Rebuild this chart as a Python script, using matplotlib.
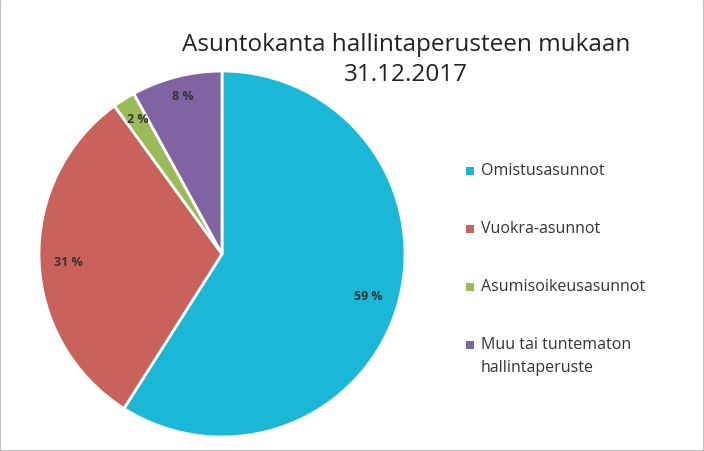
import matplotlib
matplotlib.use("Agg")
import matplotlib.pyplot as plt
from matplotlib.patches import Rectangle

categories = ["Omistusasunnot", "Vuokra-asunnot", "Asumisoikeusasunnot", "Muu tai tuntematon\nhallintaperuste"]
values = [59, 31, 2, 8]
colors = ["#1ab7d6", "#c9625a", "#9bbb59", "#8064a2"]
label_pos = [(368, 296), (68, 262), (138, 120), (183, 97)]

W, H = 704, 452
fig = plt.figure(figsize=(W/100, H/100), dpi=100)
fig.patches.append(Rectangle((0, 0), 1, 1, transform=fig.transFigure, fill=False, edgecolor="#bfbfbf", lw=1.5))
plt.rcParams["font.family"] = "Open Sans"

cx, cy, r = 222, 255, 183
ax = fig.add_axes([(cx-r)/W, (H-cy-r)/H, 2*r/W, 2*r/H])
ax.pie(values, colors=colors, startangle=90, counterclock=False, radius=1,
       wedgeprops=dict(edgecolor="white", linewidth=2))
ax.set_xlim(-1, 1)
ax.set_ylim(-1, 1)
ax.set_aspect("auto")
for v, (x, y) in zip(values, label_pos):
    fig.text(x/W, 1-y/H, f"{v} %", ha="center", va="center", fontsize=9, fontweight="bold", color="#333333")

fig.text(406/W, 1-45/H, "Asuntokanta hallintaperusteen mukaan", ha="center", va="center", fontsize=17.5, color="#222222")
fig.text(406/W, 1-75/H, "31.12.2017", ha="center", va="center", fontsize=17.5, color="#222222")

ys = [172, 230, 288, 346]
for c, lab, y in zip(colors, categories, ys):
    fig.patches.append(Rectangle(((466)/W, 1-(y+4)/H), 8/W, 8/H, transform=fig.transFigure, facecolor=c, edgecolor="none"))
    fig.text(481/W, 1-(y-9)/H, lab, ha="left", va="top", fontsize=11.5, color="#333333", linespacing=1.55)

fig.savefig("out.png", dpi=100)
